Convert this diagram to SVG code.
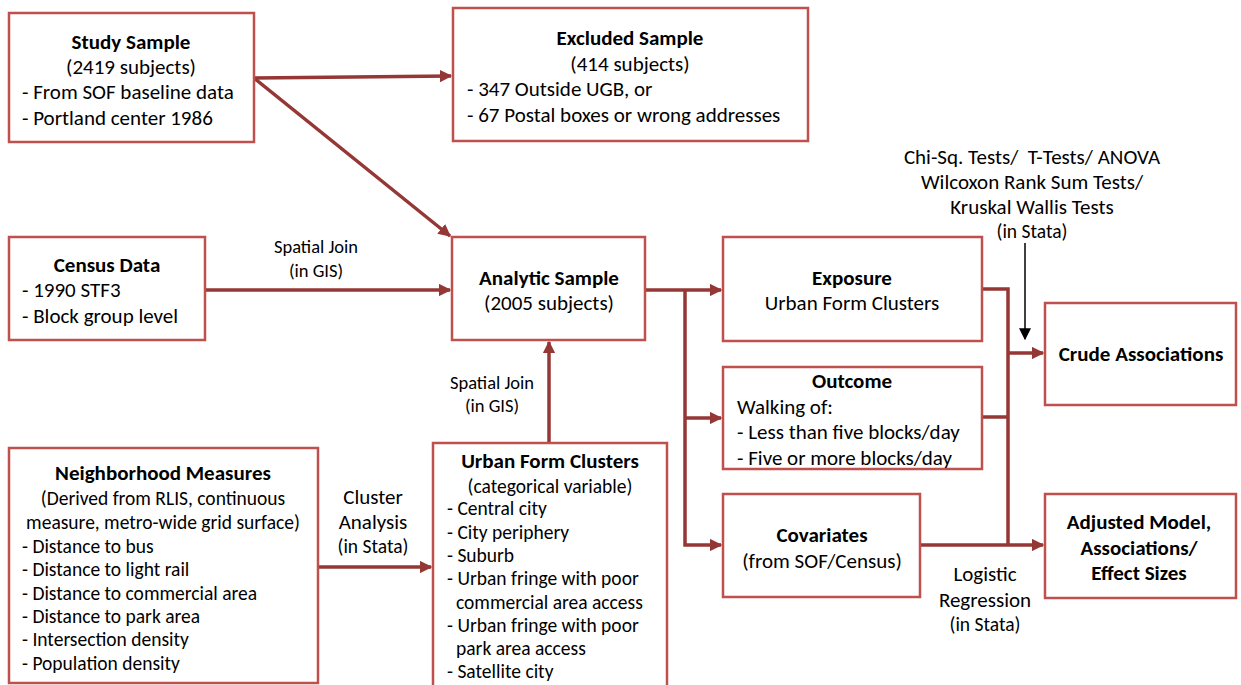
<svg xmlns="http://www.w3.org/2000/svg" width="1241" height="685" viewBox="0 0 1241 685">
<style>
text{font-family:Carlito,Lato,"Liberation Sans",sans-serif;font-size:21px;fill:#000}
.b{font-weight:bold}
.c{text-anchor:middle}
.s{font-size:19.5px}
.j{font-size:18.5px}
.box{fill:#fff;stroke:#c0504d;stroke-width:2.5}
.con{fill:none;stroke:#953735;stroke-width:3.5}
</style>
<defs>
<marker id="ah" viewBox="0 0 10 10" refX="9" refY="5" markerWidth="3.6" markerHeight="3.6" markerUnits="strokeWidth" orient="auto"><path d="M0,0 L10,5 L0,10 z" fill="#953735"/></marker>
<marker id="ak" viewBox="0 0 10 10" refX="9" refY="5" markerWidth="8" markerHeight="8" markerUnits="strokeWidth" orient="auto"><path d="M0,0 L10,5 L0,10 z" fill="#000"/></marker>
</defs>
<rect width="1241" height="685" fill="#fff"/>
<g id="connectors">
<path class="con" d="M254,78 L451,76" marker-end="url(#ah)"/>
<path class="con" d="M254,78 L450,236" marker-end="url(#ah)"/>
<path class="con" d="M205,290 L450,290" marker-end="url(#ah)"/>
<path class="con" d="M549,443 L549,342" marker-end="url(#ah)"/>
<path class="con" d="M318,567 L431,567" marker-end="url(#ah)"/>
<path class="con" d="M645,290 L721,290" marker-end="url(#ah)"/>
<path class="con" d="M685,290 L685,545 L721,545" marker-end="url(#ah)"/>
<path class="con" d="M685,418 L721,418" marker-end="url(#ah)"/>
<path class="con" d="M982,289 L1008,289 L1008,545"/>
<path class="con" d="M982,417 L1008,417"/>
<path class="con" d="M1008,353 L1043,353" marker-end="url(#ah)"/>
<path class="con" d="M920,545 L1043,545" marker-end="url(#ah)"/>
<path d="M1025,243 L1025,339" stroke="#000" stroke-width="1.5" fill="none" marker-end="url(#ak)"/>
<text class="c j" x="316" y="253">Spatial Join</text>
<text class="c j" x="316" y="277">(in GIS)</text>
<text class="c j" x="492" y="389">Spatial Join</text>
<text class="c j" x="492" y="412">(in GIS)</text>
<text class="c" x="373" y="504">Cluster</text>
<text class="c" x="373" y="529">Analysis</text>
<text class="c s" x="373" y="553">(in Stata)</text>
<text class="c" x="1032" y="164" xml:space="preserve">Chi-Sq. Tests/  T-Tests/ ANOVA</text>
<text class="c" x="1032" y="189">Wilcoxon Rank Sum Tests/</text>
<text class="c" x="1032" y="214">Kruskal Wallis Tests</text>
<text class="c s" x="1032" y="238">(in Stata)</text>
<text class="c" x="985" y="581">Logistic</text>
<text class="c" x="985" y="607">Regression</text>
<text class="c s" x="985" y="631">(in Stata)</text>
</g>
<g id="study">
<rect class="box" x="9" y="13" width="245" height="129"/>
<text class="c b" x="131" y="49">Study Sample</text>
<text class="c" x="131" y="74">(2419 subjects)</text>
<text x="22" y="99">- From SOF baseline data</text>
<text x="22" y="125">- Portland center 1986</text>
</g>
<g id="excluded">
<rect class="box" x="453" y="8" width="355" height="133"/>
<text class="c b" x="630" y="45">Excluded Sample</text>
<text class="c" x="630" y="71">(414 subjects)</text>
<text x="467" y="96">- 347 Outside UGB, or</text>
<text x="467" y="122">- 67 Postal boxes or wrong addresses</text>
</g>
<g id="census">
<rect class="box" x="9" y="237" width="196" height="103"/>
<text class="c b" x="107" y="272">Census Data</text>
<text x="22" y="297">- 1990 STF3</text>
<text x="22" y="323">- Block group level</text>
</g>
<g id="analytic">
<rect class="box" x="452" y="237" width="193" height="103"/>
<text class="c b" x="549" y="285">Analytic Sample</text>
<text class="c" x="549" y="310">(2005 subjects)</text>
</g>
<g id="exposure">
<rect class="box" x="723" y="237" width="259" height="104"/>
<text class="c b" x="852" y="285">Exposure</text>
<text class="c" x="852" y="310">Urban Form Clusters</text>
</g>
<g id="outcome">
<rect class="box" x="723" y="367" width="259" height="102"/>
<text class="c b" x="852" y="388">Outcome</text>
<text x="737" y="414">Walking of:</text>
<text x="737" y="439">- Less than five blocks/day</text>
<text x="737" y="465">- Five or more blocks/day</text>
</g>
<g id="covariates">
<rect class="box" x="723" y="494" width="197" height="103"/>
<text class="c b" x="822" y="542">Covariates</text>
<text class="c" x="822" y="568">(from SOF/Census)</text>
</g>
<g id="crude">
<rect class="box" x="1045" y="303" width="191" height="102"/>
<text class="c b" x="1141" y="361">Crude Associations</text>
</g>
<g id="adjusted">
<rect class="box" x="1045" y="494" width="191" height="104"/>
<text class="c b" x="1139" y="529">Adjusted Model,</text>
<text class="c b" x="1139" y="555">Associations/</text>
<text class="c b" x="1139" y="580">Effect Sizes</text>
</g>
<g id="neighborhood">
<rect class="box" x="9" y="448" width="309" height="235"/>
<text class="c b" x="163" y="480">Neighborhood Measures</text>
<text class="c s" x="163" y="505">(Derived from RLIS, continuous</text>
<text class="c s" x="163" y="529">measure, metro-wide grid surface)</text>
<text class="s" x="22" y="553">- Distance to bus</text>
<text class="s" x="22" y="576">- Distance to light rail</text>
<text class="s" x="22" y="600">- Distance to commercial area</text>
<text class="s" x="22" y="623">- Distance to park area</text>
<text class="s" x="22" y="646">- Intersection density</text>
<text class="s" x="22" y="670">- Population density</text>
</g>
<g id="urbanform">
<rect class="box" x="433" y="443" width="234" height="250"/>
<text class="c b" x="550" y="468">Urban Form Clusters</text>
<text class="c s" x="550" y="493">(categorical variable)</text>
<text class="s" x="447" y="515">- Central city</text>
<text class="s" x="447" y="539">- City periphery</text>
<text class="s" x="447" y="562">- Suburb</text>
<text class="s" x="447" y="585">- Urban fringe with poor</text>
<text class="s" x="456" y="609">commercial area access</text>
<text class="s" x="447" y="632">- Urban fringe with poor</text>
<text class="s" x="456" y="655">park area access</text>
<text class="s" x="447" y="678">- Satellite city</text>
</g>
</svg>
